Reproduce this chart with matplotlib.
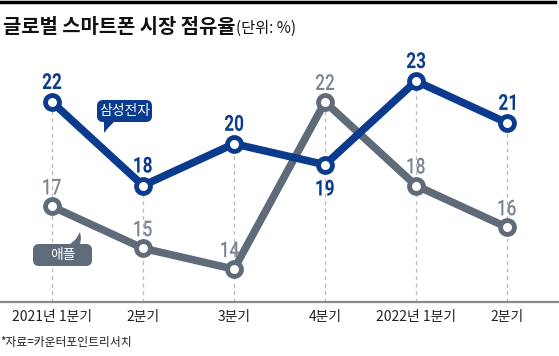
import matplotlib
matplotlib.use("Agg")
import matplotlib.pyplot as plt
from matplotlib.font_manager import FontProperties
from matplotlib.textpath import TextPath
from matplotlib.patches import PathPatch, FancyBboxPatch, Polygon
from matplotlib.transforms import Affine2D, IdentityTransform

plt.rcParams['font.family'] = ['Noto Sans CJK KR', 'DejaVu Sans']

# data
quarters = ["2021년 1분기", "2분기", "3분기", "4분기", "2022년 1분기", "2분기"]
samsung = [22, 18, 20, 19, 23, 21]
apple = [17, 15, 14, 22, 18, 16]

blue = "#0b3b8c"
gray = "#5f6b79"
gray_txt = "#7b8595"

W, H = 559, 356
fig = plt.figure(figsize=(W / 100, H / 100), dpi=100)
ax = fig.add_axes([0, 0.1517, 1, 0.708])
xs = list(range(len(quarters)))
ax.set_xlim(-0.571, 5.571)
ax.set_ylim(12.43, 24.49)

# dashed guides from top marker down to axis
for i in xs:
    top = max(samsung[i], apple[i])
    ax.plot([i, i], [12.43, top], ls=(0, (3, 3)), color="#b8b8b8", lw=0.9, zorder=1)

ax.plot(xs, apple, color=gray, lw=5.5, zorder=3, solid_capstyle='round',
        marker='o', ms=10, mfc='white', mec=gray, mew=3.5)
ax.plot(xs, samsung, color=blue, lw=5.5, zorder=4, solid_capstyle='round',
        marker='o', ms=10, mfc='white', mec=blue, mew=3.5)


def narrow_label(s, x, y, gap, color, weight, below=False, dx=0):
    # condensed number: text path squeezed horizontally, placed in pixels
    fp = FontProperties(family='Roboto', weight=weight)
    tp = TextPath((0, 0), s, size=22, prop=fp)
    ext = tp.get_extents()
    sx = 0.78
    px, py = ax.transData.transform((x, y))
    ty = py - gap - ext.y1 if below else py + gap
    tr = Affine2D().scale(sx, 1).translate(px + dx - sx * (ext.x0 + ext.width / 2), ty)
    fig.add_artist(PathPatch(tp, transform=tr, fc=color, ec='none', zorder=7))


for i, v in enumerate(samsung):
    narrow_label(str(v), i, v, 15 if i == 3 else 13, blue, 'bold', below=(i == 3))
for i, v in enumerate(apple):
    narrow_label(str(v), i, v, 12, gray_txt, 'medium', dx=-4 if i == 2 else 0)


def bubble(text, x0, y0, x1, y1, tail, color):
    # box and tail given in image pixels (y from top)
    ident = IdentityTransform()
    box = FancyBboxPatch((x0, H - y1), x1 - x0, y1 - y0,
                         boxstyle='round,pad=0,rounding_size=6',
                         fc=color, ec='none', transform=ident, zorder=6)
    fig.add_artist(box)
    fig.add_artist(Polygon([(px, H - py) for px, py in tail], closed=True,
                           fc=color, ec='none', transform=ident, zorder=6))
    fig.text((x0 + x1) / 2 / W, 1 - (y0 + y1) / 2 / H, text, ha='center', va='center',
             fontsize=10, color='white', zorder=8)


bubble("삼성전자", 97, 100, 152, 122, [(104, 121), (115, 121), (108, 128), (104, 133)], blue)
bubble("애플", 33, 244, 92, 266, [(69, 245), (80, 245), (81, 238), (80, 232), (76, 239)], gray)

ax.set_xticks(xs)
ax.set_xticklabels(quarters, fontsize=10, color="#222222")
ax.tick_params(axis='x', length=0, pad=6)
ax.set_yticks([])
for s in ['top', 'left', 'right']:
    ax.spines[s].set_visible(False)
ax.spines['bottom'].set_color("#8a8a8a")
ax.spines['bottom'].set_linewidth(1.6)
ax.patch.set_alpha(0)

# title and top rule
fig.add_artist(plt.Line2D([0, 0.993], [0.993, 0.993], color='black', lw=2.5))
t = fig.text(0.005, 0.907, "글로벌 스마트폰 시장 점유율", fontsize=14.3, fontweight='bold',
             color="#111111", va='baseline')
fig.canvas.draw()
bb = t.get_window_extent()
fig.text(bb.x1 / W + 0.002, 0.907, "(단위: %)", fontsize=11, color="#111111",
         va='baseline')

fig.text(0.0, 0.027, "*자료=카운터포인트리서치", fontsize=8.5, color="#222222")

fig.savefig("out.png", dpi=100)
